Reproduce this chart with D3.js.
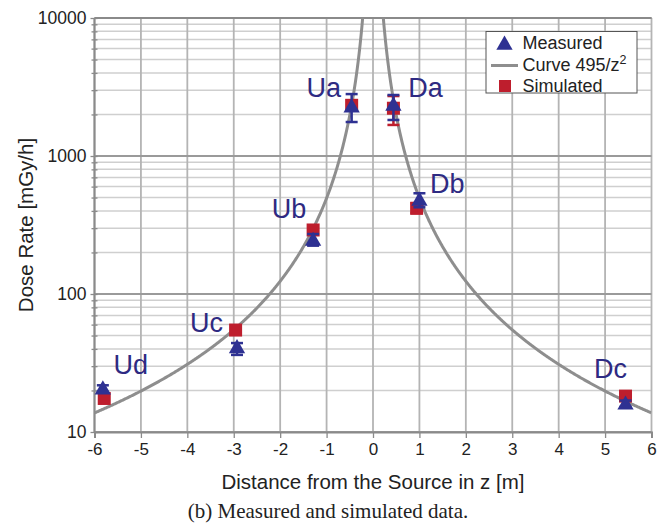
<!DOCTYPE html>
<html><head><meta charset="utf-8">
<script src="https://cdn.jsdelivr.net/npm/d3@7"></script>
<style>
body{margin:0;background:#fff;}
svg{display:block;font-family:"Liberation Sans",Arial,sans-serif;}
</style></head>
<body><svg id="c" width="663" height="526"></svg>
<script>
// ---- data ----
const pointNames = ["Ud","Uc","Ub","Ua","Da","Db","Dc"];
const measuredX = [-5.82,-2.93,-1.29,-0.46,0.44,1.00,5.44];
const measuredY = [20.6,41,246,2275,2344,480,16.0];
const measuredLo = [19.5,36.2,224,1763,1824,425,15.2];
const measuredHi = [21.8,44.1,272,2810,2767,537,16.9];
const simulatedX = [-5.79,-2.96,-1.29,-0.46,0.44,0.94,5.44];
const simulatedY = [17.5,54.8,291,2330,2219,418,18.2];
const simulatedLo = [null,null,null,null,1679,385,null];
const simulatedHi = [null,null,null,null,2720,455,null];
const labelX = [-5.59,-3.94,-2.18,-1.43,0.76,1.23,4.76];
const labelY = [26.3,52.7,354,2692,2692,537,24.5];
const curveCoef = 495;
const xTicks = [-6,-5,-4,-3,-2,-1,0,1,2,3,4,5,6];
const yMajor = [10,100,1000,10000];
const legendLabels = ["Measured","Curve 495/z","Simulated"];

// ---- layout ----
const svg = d3.select("#c");
const L=94.5, R=651.5, T=18, B=432;
const x = d3.scaleLinear().domain([-6,6]).range([L,R]);
const y = d3.scaleLog().domain([10,10000]).range([B,T]);
const navy="#2e3192", red="#be1e2d", labCol="#2e2a82";

const yMinor=[];
for(let d=10; d<10000; d*=10) for(let k=2;k<=9;k++) yMinor.push(d*k);

// gridlines
const g = svg.append("g");
g.selectAll(".hmin").data(yMinor).join("line")
 .attr("x1",L).attr("x2",R).attr("y1",d=>y(d)).attr("y2",d=>y(d))
 .attr("stroke","#cfcfcf").attr("stroke-width",1.5);
g.selectAll(".vg").data(xTicks).join("line")
 .attr("x1",d=>x(d)).attr("x2",d=>x(d)).attr("y1",T).attr("y2",B)
 .attr("stroke","#b4b4b4").attr("stroke-width",1.8);
g.selectAll(".hmaj").data(yMajor).join("line")
 .attr("x1",L).attr("x2",R).attr("y1",d=>y(d)).attr("y2",d=>y(d))
 .attr("stroke","#9a9a9a").attr("stroke-width",1.8);

// axes
const yAxis = d3.axisLeft(y).tickValues(yMajor).tickFormat(d3.format("d")).tickSize(7).tickPadding(4);
const ya = svg.append("g").attr("transform",`translate(${L+3},0)`).call(yAxis);
const yAxisMinor = d3.axisLeft(y).tickValues(yMinor).tickFormat("").tickSize(6);
const ym = svg.append("g").attr("transform",`translate(${L+3},0)`).call(yAxisMinor);
[ya,ym].forEach(a=>{a.select(".domain").remove(); a.selectAll("line").attr("stroke","#8a8a8a").attr("stroke-width",1.3);});
ya.selectAll("text").attr("font-size",17.5).attr("fill","#222").attr("font-family","Liberation Sans, Arial");
svg.append("line").attr("x1",L).attr("x2",L).attr("y1",T).attr("y2",B).attr("stroke","#8a8a8a").attr("stroke-width",2);
svg.append("line").attr("x1",L).attr("x2",R).attr("y1",T).attr("y2",T).attr("stroke","#8a8a8a").attr("stroke-width",2);

const xAxis = d3.axisBottom(x).tickValues(xTicks).tickFormat(d3.format("d")).tickSize(6).tickPadding(5);
const xa = svg.append("g").attr("transform",`translate(0,${B})`).call(xAxis);
xa.select(".domain").attr("stroke","#8a8a8a").attr("stroke-width",2);
xa.selectAll("line").attr("stroke","#8a8a8a").attr("stroke-width",1.3);
xa.selectAll("text").attr("font-size",17).attr("fill","#222").attr("font-family","Liberation Sans, Arial")
  .text(d=>d<0?"-"+Math.abs(d):d);

// titles
svg.append("text").attr("x",x(0)).attr("y",489).attr("text-anchor","middle")
 .attr("font-size",20.5).attr("fill","#222").text("Distance from the Source in z [m]");
svg.append("text").attr("transform",`translate(33,${(T+B)/2}) rotate(-90)`).attr("text-anchor","middle")
 .attr("font-size",20.5).attr("fill","#222").text("Dose Rate [mGy/h]");
svg.append("text").attr("x",x(0)-45).attr("y",518).attr("text-anchor","middle")
 .attr("font-family","Liberation Serif, Times New Roman, serif").attr("font-size",21).attr("fill","#222")
 .text("(b) Measured and simulated data.");

// curve
svg.append("clipPath").attr("id","clip").append("rect").attr("x",L).attr("y",T).attr("width",R-L).attr("height",B-T);
const zmin = Math.sqrt(curveCoef/10000);
const line = d3.line().x(d=>x(d)).y(d=>y(curveCoef/(d*d)));
const cg = svg.append("g").attr("clip-path","url(#clip)");
[d3.range(-6,-zmin,0.01).concat([-zmin]), [zmin].concat(d3.range(zmin+0.01,6.001,0.01))].forEach(seg=>{
  cg.append("path").datum(seg).attr("d",line).attr("fill","none").attr("stroke","#8e8e8e").attr("stroke-width",3);
});

// simulated squares + error bars
const sq=13;
simulatedX.forEach((sx,i)=>{
  svg.append("rect").attr("x",x(sx)-sq/2).attr("y",y(simulatedY[i])-sq/2).attr("width",sq).attr("height",sq).attr("fill",red);
  if(simulatedLo[i]!=null){
    const eg=svg.append("g").attr("stroke",red).attr("stroke-width",2.5);
    eg.append("line").attr("x1",x(sx)).attr("x2",x(sx)).attr("y1",y(simulatedLo[i])).attr("y2",y(simulatedHi[i]));
    [simulatedLo[i],simulatedHi[i]].forEach(v=>eg.append("line").attr("x1",x(sx)-6).attr("x2",x(sx)+6).attr("y1",y(v)).attr("y2",y(v)));
  }
});
// measured triangles + error bars
const tri = d3.symbol().type(d3.symbolTriangle).size(115);
measuredX.forEach((mx,i)=>{
  const eg=svg.append("g").attr("stroke",navy).attr("stroke-width",2.5);
  eg.append("line").attr("x1",x(mx)).attr("x2",x(mx)).attr("y1",y(measuredLo[i])).attr("y2",y(measuredHi[i]));
  [measuredLo[i],measuredHi[i]].forEach(v=>eg.append("line").attr("x1",x(mx)-6).attr("x2",x(mx)+6).attr("y1",y(v)).attr("y2",y(v)));
  svg.append("path").attr("d",tri).attr("transform",`translate(${x(mx)},${y(measuredY[i])+1})`).attr("fill",navy);
});

// point labels
pointNames.forEach((n,i)=>{
  svg.append("text").attr("x",x(labelX[i])).attr("y",y(labelY[i])).attr("font-size",27).attr("fill",labCol).text(n);
});

// legend
const lg = svg.append("g");
lg.append("rect").attr("x",486).attr("y",31.5).attr("width",151).attr("height",61.5).attr("fill","#fff").attr("stroke","#555").attr("stroke-width",1);
lg.append("path").attr("d",tri).attr("transform","translate(504.5,45)").attr("fill",navy);
lg.append("line").attr("x1",491).attr("x2",518).attr("y1",65.5).attr("y2",65.5).attr("stroke","#8e8e8e").attr("stroke-width",3);
lg.append("rect").attr("x",499).attr("y",80).attr("width",12).attr("height",12).attr("fill",red);
const ly=[49.5,71,92];
legendLabels.forEach((t,i)=>{
  const tx=lg.append("text").attr("x",522.5).attr("y",ly[i]-0.5).attr("font-size",18).attr("fill","#222").text(t);
  if(i===1) tx.append("tspan").attr("dy",-7).attr("font-size",12.5).text("2");
});
</script></body></html>
